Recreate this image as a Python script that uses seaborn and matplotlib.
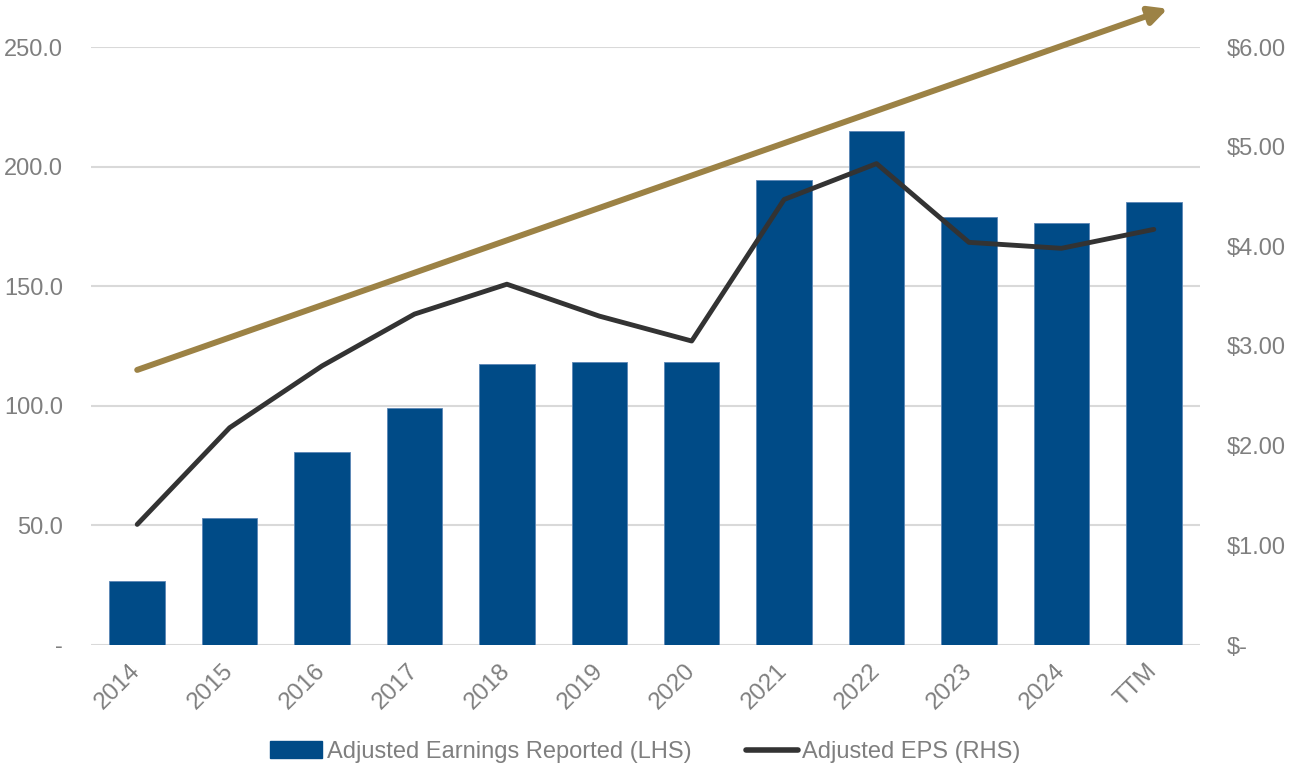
import matplotlib

matplotlib.use("Agg")

import matplotlib.pyplot as plt
from matplotlib.lines import Line2D
from matplotlib.patches import Patch
from matplotlib.ticker import FuncFormatter, MultipleLocator
import numpy as np
import pandas as pd
import seaborn as sns


CATEGORIES = ["2014", "2015", "2016", "2017", "2018", "2019",
              "2020", "2021", "2022", "2023", "2024", "TTM"]
EARNINGS = [26.7, 53.1, 80.7, 99.1, 117.6, 118.4,
            118.4, 194.6, 214.8, 178.9, 176.4, 185.3]
EPS = [1.21, 2.18, 2.80, 3.32, 3.62, 3.30,
       3.05, 4.47, 4.83, 4.04, 3.98, 4.17]
# trend arrow: (category index, LHS value) at start and tip
TREND_START = (0.0, 115.0)
TREND_END = (11.15, 266.0)

BAR_COLOR = "#004B87"
LINE_COLOR = "#333333"
ARROW_COLOR = "#9C8245"
TEXT_COLOR = "#7F7F7F"
GRID_COLOR = "#D9D9D9"
FONT = ["Liberation Sans", "DejaVu Sans"]


def main() -> None:
    sns.set_theme(style="white")
    plt.rcParams["font.family"] = FONT

    df = pd.DataFrame({"cat": CATEGORIES, "earn": EARNINGS, "eps": EPS})

    fig = plt.figure(figsize=(12.91, 7.69), dpi=100)
    ax = fig.add_axes([91 / 1291, 124 / 769, 1109 / 1291, 598 / 769])

    sns.barplot(data=df, x="cat", y="earn", color=BAR_COLOR, width=0.6,
                saturation=1, edgecolor="#5B86B5", linewidth=0.6, ax=ax)
    ax.set_xlim(-0.5, len(CATEGORIES) - 0.5)
    ax.set_ylim(0, 250)
    ax.yaxis.set_major_locator(MultipleLocator(50))
    ax.yaxis.set_major_formatter(
        FuncFormatter(lambda v, _: "-" if abs(v) < 1e-9 else f"{v:.1f}"))
    ax.grid(axis="y", color=GRID_COLOR, linewidth=1.5)
    ax.set_axisbelow(True)
    ax.set_xlabel("")
    ax.set_ylabel("")
    for s in ax.spines.values():
        s.set_visible(False)

    ax2 = ax.twinx()
    sns.lineplot(x=np.arange(len(CATEGORIES)), y=df["eps"], color=LINE_COLOR,
                 linewidth=3.5, ax=ax2)
    ax2.set_ylim(0, 6)
    ax2.yaxis.set_major_locator(MultipleLocator(1))
    ax2.yaxis.set_major_formatter(
        FuncFormatter(lambda v, _: "$-" if abs(v) < 1e-9 else f"${v:.2f}"))
    ax2.set_ylabel("")
    for s in ax2.spines.values():
        s.set_visible(False)
    ax2.grid(False)

    ax.tick_params(axis="y", length=0, pad=20, labelsize=17, labelcolor=TEXT_COLOR)
    ax2.tick_params(axis="y", length=0, pad=19.5, labelsize=17, labelcolor=TEXT_COLOR)
    ax.tick_params(axis="x", length=0, pad=16, labelsize=17.5, labelcolor=TEXT_COLOR)
    ax.set_xticks(range(len(CATEGORIES)))
    ax.set_xticklabels(CATEGORIES, rotation=45, ha="right",
                       rotation_mode="anchor", va="center")

    ax2.annotate("", xy=TREND_END, xytext=TREND_START,
                 xycoords=ax.transData, textcoords=ax.transData,
                 annotation_clip=False,
                 arrowprops=dict(arrowstyle="-|>,head_length=0.9,head_width=0.45",
                                 color=ARROW_COLOR, lw=4.3, shrinkA=0, shrinkB=0))

    handles = [
        Patch(facecolor=BAR_COLOR, edgecolor=BAR_COLOR,
              label="Adjusted Earnings Reported (LHS)"),
        Line2D([0], [0], color=LINE_COLOR, linewidth=4,
               solid_capstyle="round", label="Adjusted EPS (RHS)"),
    ]
    fig.legend(handles=handles, loc="center", bbox_to_anchor=(0.5, 1 - 752 / 769),
               ncol=2, frameon=False, fontsize=17, labelcolor=TEXT_COLOR,
               handlelength=2.2, handletextpad=0.2, columnspacing=2.3)

    fig.savefig("out.png", dpi=100)
    plt.close(fig)


if __name__ == "__main__":
    main()
